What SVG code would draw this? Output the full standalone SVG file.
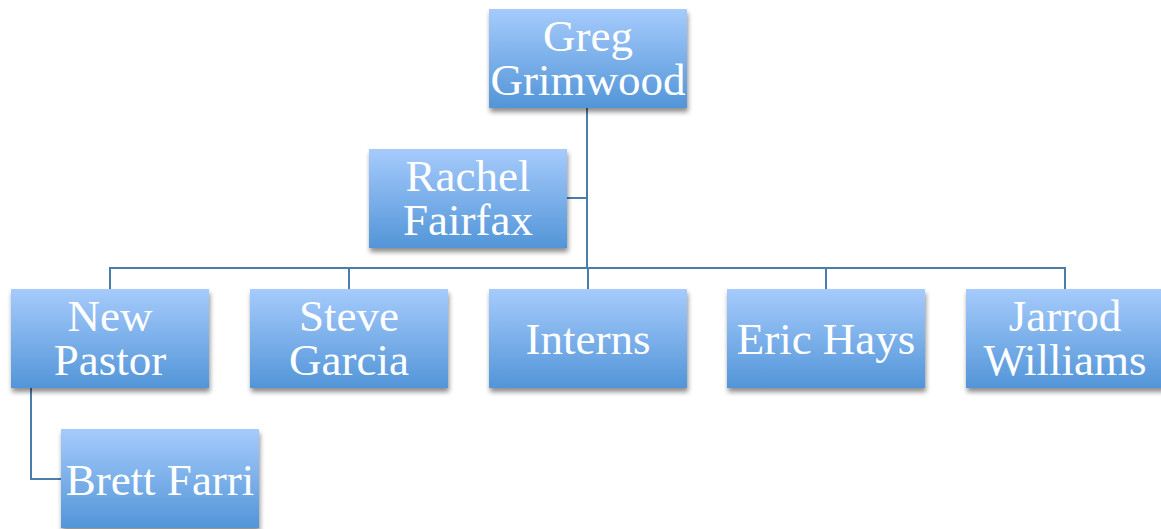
<svg xmlns="http://www.w3.org/2000/svg" width="1161" height="529" viewBox="0 0 1161 529">
<defs>
<linearGradient id="g" x1="0" y1="0" x2="0" y2="1">
<stop offset="0" stop-color="#a6cbfc"/>
<stop offset="1" stop-color="#5295d8"/>
</linearGradient>
<filter id="sh" x="-10%" y="-10%" width="130%" height="140%">
<feGaussianBlur in="SourceAlpha" stdDeviation="2.5"/>
<feOffset dx="1" dy="4" result="b"/>
<feComponentTransfer><feFuncA type="linear" slope="0.45"/></feComponentTransfer>
<feMerge><feMergeNode/><feMergeNode in="SourceGraphic"/></feMerge>
</filter>
</defs>
<style>
.box{fill:url(#g);filter:url(#sh)}
.t{font-family:"Liberation Serif",serif;font-size:45px;fill:#fff;text-anchor:middle}
.c{fill:none;stroke:#4a7cac;stroke-width:2}
</style>
<rect width="1161" height="529" fill="#fff"/>
<g id="connectors">
<path class="c" d="M587 108V268"/>
<path class="c" d="M567 198H587"/>
<path class="c" d="M110 289V268H1065V289"/>
<path class="c" d="M349 268V289M588 268V289M826 268V289"/>
<path class="c" d="M31 388V479H61"/>
</g>
<g id="greg"><rect class="box" x="489" y="9" width="198" height="99"/><text class="t" x="588" y="51">Greg</text><text class="t" x="588" y="95">Grimwood</text></g>
<g id="rachel"><rect class="box" x="369" y="149" width="198" height="99"/><text class="t" x="468" y="191">Rachel</text><text class="t" x="468" y="235">Fairfax</text></g>
<g id="newpastor"><rect class="box" x="11" y="289" width="198" height="99"/><text class="t" x="110" y="331">New</text><text class="t" x="110" y="375">Pastor</text></g>
<g id="steve"><rect class="box" x="250" y="289" width="198" height="99"/><text class="t" x="349" y="331">Steve</text><text class="t" x="349" y="375">Garcia</text></g>
<g id="interns"><rect class="box" x="489" y="289" width="198" height="99"/><text class="t" x="588" y="354">Interns</text></g>
<g id="eric"><rect class="box" x="727" y="289" width="198" height="99"/><text class="t" x="826" y="354">Eric Hays</text></g>
<g id="jarrod"><rect class="box" x="966" y="289" width="198" height="99"/><text class="t" x="1065" y="331">Jarrod</text><text class="t" x="1065" y="375">Williams</text></g>
<g id="brett"><rect class="box" x="61" y="429" width="198" height="99"/><text class="t" x="160" y="495">Brett Farri</text></g>
</svg>
